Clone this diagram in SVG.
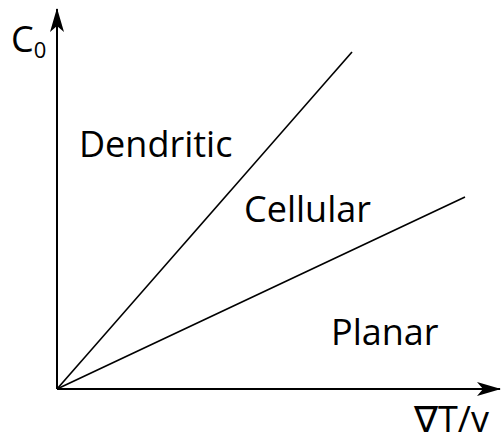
<svg xmlns="http://www.w3.org/2000/svg" width="504" height="438" viewBox="0 0 504 438">
<style>
.ax{stroke:#000;stroke-width:2;fill:none}
.ln{stroke:#000;stroke-width:1.6;fill:none}
text{font-family:"Open Sans","Noto Sans",sans-serif;font-size:36px;fill:#000}
</style>
<defs>
<marker id="ah" viewBox="0 0 24 14" refX="23" refY="7" markerWidth="24" markerHeight="14" markerUnits="userSpaceOnUse" orient="auto">
<path d="M0,0 L24,7 L0,14 L6,7 Z" fill="#000"/>
</marker>
</defs>
<g id="connectors">
<line class="ax" x1="57" y1="389" x2="57" y2="9" marker-end="url(#ah)"/>
<line class="ax" x1="57" y1="389" x2="500" y2="389" marker-end="url(#ah)"/>
<line class="ln" x1="57" y1="389" x2="352" y2="52"/>
<line class="ln" x1="57" y1="389" x2="465" y2="197"/>
</g>
<g id="ylabel"><text x="11" y="52">C<tspan font-size="22" dy="6">0</tspan></text></g>
<g id="xlabel"><text x="414" y="432">∇T/v</text></g>
<g id="dendritic"><text x="79" y="157">Dendritic</text></g>
<g id="cellular"><text x="244" y="222">Cellular</text></g>
<g id="planar"><text x="331" y="345">Planar</text></g>
</svg>
